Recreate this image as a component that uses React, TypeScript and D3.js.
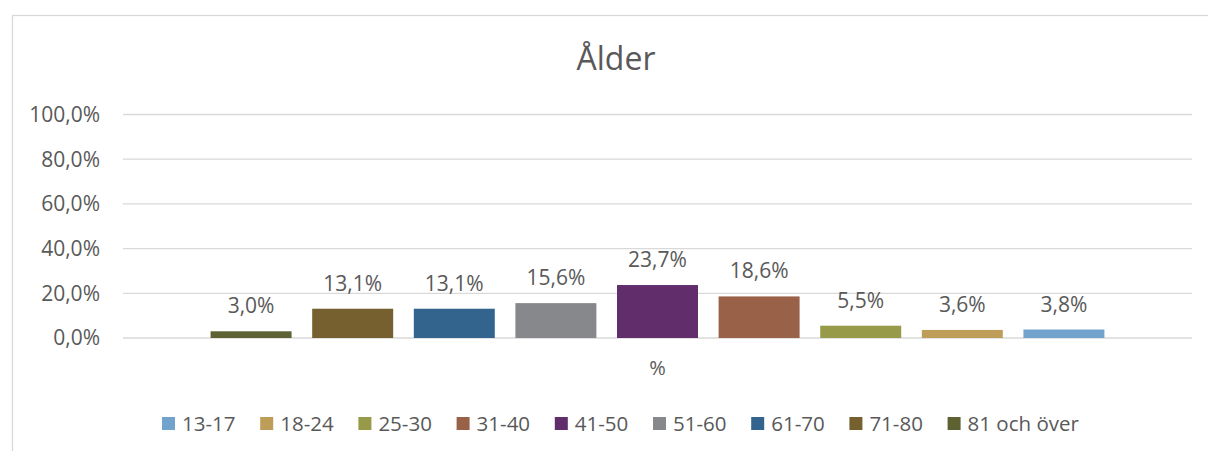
import React from "react";
import * as d3 from "d3";

const seriesNames = ["13-17", "18-24", "25-30", "31-40", "41-50", "51-60", "61-70", "71-80", "81 och över"];
const seriesValues = [3.8, 3.6, 5.5, 18.6, 23.7, 15.6, 13.1, 13.1, 3.0];
const seriesColors = ["#71A3CD", "#BE9D58", "#979A48", "#9A6149", "#612E6B", "#87888C", "#33648E", "#77602F", "#5E6232"];
const yTicks = [0, 20, 40, 60, 80, 100];
const categoryLabel = "%";
const title = "Ålder";

const W = 1208;
const H = 451;
const FONT = "'Open Sans', 'Noto Sans', sans-serif";
const TEXT = "#595959";
const GRID = "#D9D9D9";

const fmt = (v: number) => v.toFixed(1).replace(".", ",") + "%";

export default function App() {
  const plotLeft = 123;
  const plotRight = 1192;
  const y = d3.scaleLinear().domain([0, 100]).range([338, 114.5]);
  // bars drawn in reverse series order (Excel clustered column order)
  const order = seriesNames.map((_, i) => i).reverse();
  const x = d3
    .scaleBand<number>()
    .domain(order)
    .range([plotLeft, plotRight])
    .paddingInner(0.203)
    .paddingOuter(0.862);
  const legendStep = 98.2;
  const legendX0 = 162;

  return (
    <svg
      width={W}
      height={H}
      style={{ position: "absolute", left: 0, top: 0, display: "block", background: "#fff" }}
      fontFamily={FONT}
    >
      <rect x={12.5} y={15.5} width={1300} height={600} fill="#fff" stroke={GRID} strokeWidth={1.3} />
      <text x={616} y={70} textAnchor="middle" fontSize={32} fill={TEXT}>
        {title}
      </text>
      {yTicks.map((t) => (
        <g key={t}>
          <line x1={plotLeft} x2={plotRight} y1={y(t)} y2={y(t)} stroke={GRID} strokeWidth={1.3} />
          <text x={100} y={y(t)} dy="0.35em" textAnchor="end" fontSize={21} fill={TEXT}>
            {fmt(t)}
          </text>
        </g>
      ))}
      {order.map((i) => {
        const bx = x(i)!;
        const bw = x.bandwidth();
        const v = seriesValues[i];
        return (
          <g key={seriesNames[i]}>
            <rect x={bx} y={y(v)} width={bw} height={y(0) - y(v)} fill={seriesColors[i]} />
            <text x={bx + bw / 2} y={y(v) - 18} textAnchor="middle" fontSize={21} fill={TEXT}>
              {fmt(v)}
            </text>
          </g>
        );
      })}
      <text x={(plotLeft + plotRight) / 2} y={375} textAnchor="middle" fontSize={20} fill={TEXT}>
        {categoryLabel}
      </text>
      {seriesNames.map((n, i) => {
        const lx = legendX0 + i * legendStep;
        return (
          <g key={n}>
            <rect x={lx} y={417} width={13} height={13} fill={seriesColors[i]} />
            <text x={lx + 20} y={430.5} fontSize={20.5} fill={TEXT}>
              {n}
            </text>
          </g>
        );
      })}
    </svg>
  );
}
